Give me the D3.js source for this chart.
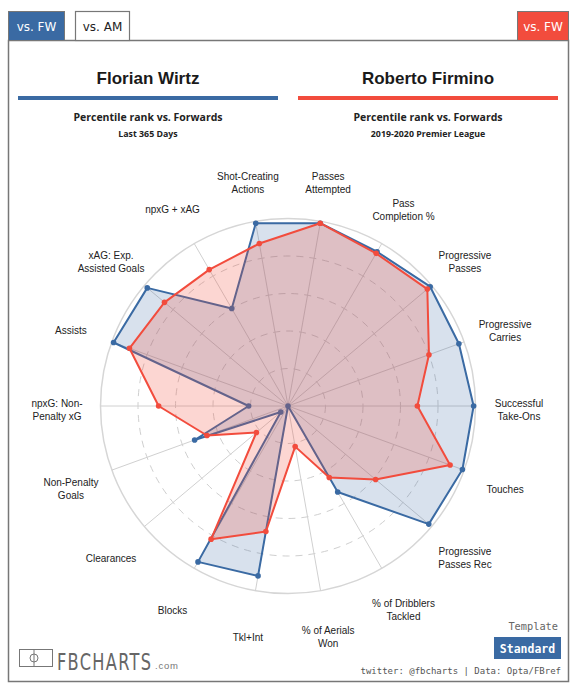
<!DOCTYPE html>
<html>
<head>
<meta charset="utf-8">
<script src="https://cdn.jsdelivr.net/npm/d3@7"></script>
<style>
  html, body { margin: 0; padding: 0; background: #fff; }
  svg { display: block; }
</style>
</head>
<body>
<svg id="chart" width="577" height="690"></svg>
<script>
// ---------- data ----------
const categories = [
  "Passes Attempted", "Pass Completion %", "Progressive Passes", "Progressive Carries",
  "Successful Take-Ons", "Touches", "Progressive Passes Rec", "% of Dribblers Tackled",
  "% of Aerials Won", "Tkl+Int", "Blocks", "Clearances", "Non-Penalty Goals",
  "npxG: Non-Penalty xG", "Assists", "xAG: Exp. Assisted Goals", "npxG + xAG",
  "Shot-Creating Actions"
];
const labelLines = [
  ["Passes", "Attempted"], ["Pass", "Completion %"], ["Progressive", "Passes"],
  ["Progressive", "Carries"], ["Successful", "Take-Ons"], ["Touches"],
  ["Progressive", "Passes Rec"], ["% of Dribblers", "Tackled"], ["% of Aerials", "Won"],
  ["Tkl+Int"], ["Blocks"], ["Clearances"], ["Non-Penalty", "Goals"],
  ["npxG: Non-", "Penalty xG"], ["Assists"], ["xAG: Exp.", "Assisted Goals"],
  ["npxG + xAG"], ["Shot-Creating", "Actions"]
];
const wirtz   = [99, 95, 99, 97, 99, 99, 98, 53, 0, 92, 96, 5, 53, 21, 99, 98, 60, 99];
const firmino = [99, 94, 97, 80, 69, 92, 61, 44, 22, 68, 82, 22, 46, 69, 90, 86, 84, 88];
const gridTicks = [20, 40, 60, 80];
const players = ["Florian Wirtz", "Roberto Firmino"];
const subtitles = ["Last 365 Days", "2019-2020 Premier League"];
const tabsLeft = ["vs. FW", "vs. AM"];
const tabRight = "vs. FW";

// ---------- style ----------
const BLUE = "#3a6aa3";
const RED = "#f24c3d";
const cx = 288, cy = 406, R = 187.5;

const svg = d3.select("#chart");

// ---------- frame & tabs ----------
svg.append("rect").attr("x", 8.5).attr("y", 40.5).attr("width", 560).attr("height", 641)
  .attr("fill", "#fff").attr("stroke", "#777").attr("stroke-width", 1.5);

const tabG = svg.append("g");
tabG.append("rect").attr("x", 8.5).attr("y", 11.5).attr("width", 56).attr("height", 29)
  .attr("fill", BLUE).attr("stroke", "#777").attr("stroke-width", 1);
tabG.append("text").attr("x", 36.5).attr("y", 31).attr("text-anchor", "middle")
  .attr("font-family", "DejaVu Sans").attr("font-size", 12).attr("fill", "#fff").text(tabsLeft[0]);
tabG.append("rect").attr("x", 75.5).attr("y", 11.5).attr("width", 54).attr("height", 29)
  .attr("fill", "#fff").attr("stroke", "#777").attr("stroke-width", 1.2);
tabG.append("text").attr("x", 102.5).attr("y", 31).attr("text-anchor", "middle")
  .attr("font-family", "DejaVu Sans").attr("font-size", 12).attr("fill", "#222").text(tabsLeft[1]);
tabG.append("rect").attr("x", 517.5).attr("y", 11.5).attr("width", 51).attr("height", 29)
  .attr("fill", RED).attr("stroke", "#777").attr("stroke-width", 1);
tabG.append("text").attr("x", 543).attr("y", 31).attr("text-anchor", "middle")
  .attr("font-family", "DejaVu Sans").attr("font-size", 12).attr("fill", "#fff").text(tabRight);

// ---------- headers ----------
const headX = [148, 428];
const headColors = [BLUE, RED];
players.forEach((p, i) => {
  svg.append("text").attr("x", headX[i]).attr("y", 84).attr("text-anchor", "middle")
    .attr("font-family", "Liberation Sans, Arial, sans-serif").attr("font-weight", "bold")
    .attr("font-size", 17).attr("fill", "#1a1a1a").text(p);
  svg.append("rect").attr("x", headX[i] - 130).attr("y", 96).attr("width", 260).attr("height", 4)
    .attr("fill", headColors[i]);
  svg.append("text").attr("x", headX[i]).attr("y", 121).attr("text-anchor", "middle")
    .attr("font-family", "Open Sans, sans-serif").attr("font-weight", "bold")
    .attr("font-size", 10.5).attr("fill", "#222").text("Percentile rank vs. Forwards");
  svg.append("text").attr("x", headX[i]).attr("y", 137).attr("text-anchor", "middle")
    .attr("font-family", "Open Sans, sans-serif").attr("font-weight", "bold")
    .attr("font-size", 8.8).attr("fill", "#222").text(subtitles[i]);
});

// ---------- radar ----------
const n = categories.length;
const angle = d3.scaleLinear().domain([0, n]).range([10 * Math.PI / 180, 10 * Math.PI / 180 + 2 * Math.PI]);
const r = d3.scaleLinear().domain([0, 100]).range([0, R]);

const g = svg.append("g").attr("transform", `translate(${cx},${cy})`);

g.selectAll("circle.grid").data(gridTicks).enter().append("circle")
  .attr("r", d => r(d)).attr("fill", "none").attr("stroke", "#cfcfcf")
  .attr("stroke-width", 1).attr("stroke-dasharray", "7,6");
g.append("circle").attr("r", r(100)).attr("fill", "none").attr("stroke", "#d6d6d6").attr("stroke-width", 1.5);

g.selectAll("line.spoke").data(categories).enter().append("line")
  .attr("x1", 0).attr("y1", 0)
  .attr("x2", (d, i) => Math.sin(angle(i)) * r(100))
  .attr("y2", (d, i) => -Math.cos(angle(i)) * r(100))
  .attr("stroke", "#d0d0d0").attr("stroke-width", 1);

const radial = d3.lineRadial()
  .angle((d, i) => angle(i))
  .radius(d => r(d))
  .curve(d3.curveLinearClosed);

function drawSeries(vals, color, op) {
  const sg = g.append("g");
  sg.append("path").attr("d", radial(vals)).attr("fill", color).attr("fill-opacity", op)
    .attr("stroke", color).attr("stroke-width", 2).attr("stroke-linejoin", "round");
  sg.selectAll("circle").data(vals).enter().append("circle")
    .attr("cx", (d, i) => Math.sin(angle(i)) * r(d))
    .attr("cy", (d, i) => -Math.cos(angle(i)) * r(d))
    .attr("r", 2.8).attr("fill", color);
}
drawSeries(wirtz, BLUE, 0.2);
drawSeries(firmino, RED, 0.23);

const LR = 231;
const lab = g.selectAll("text.lab").data(labelLines).enter().append("text")
  .attr("text-anchor", "middle")
  .attr("font-family", "Liberation Sans, Arial, sans-serif")
  .attr("font-size", 10).attr("fill", "#222")
  .attr("transform", (d, i) => `translate(${Math.sin(angle(i)) * LR},${-Math.cos(angle(i)) * LR + 4})`);
lab.each(function(lines) {
  const t = d3.select(this);
  const off = -(lines.length - 1) * 13 / 2;
  lines.forEach((l, j) => {
    t.append("tspan").attr("x", 0).attr("y", off + j * 13).attr("dy", "0.35em").text(l);
  });
});

// ---------- footer ----------
svg.append("text").attr("x", 558).attr("y", 630).attr("text-anchor", "end")
  .attr("font-family", "DejaVu Sans Mono, monospace").attr("font-size", 10.3)
  .attr("fill", "#666").text("Template");
svg.append("rect").attr("x", 494).attr("y", 637).attr("width", 67).attr("height", 22).attr("fill", BLUE);
svg.append("text").attr("x", 527.5).attr("y", 652.5).attr("text-anchor", "middle")
  .attr("font-family", "DejaVu Sans Mono, monospace").attr("font-weight", "bold").attr("font-size", 11.5)
  .attr("fill", "#fff").text("Standard");
svg.append("text").attr("x", 561).attr("y", 674).attr("text-anchor", "end")
  .attr("font-family", "DejaVu Sans Mono, monospace").attr("font-size", 9)
  .attr("fill", "#555").text("twitter: @fbcharts | Data: Opta/FBref");

// logo
const logo = svg.append("g");
logo.append("rect").attr("x", 19.5).attr("y", 649.5).attr("width", 33).attr("height", 17)
  .attr("fill", "none").attr("stroke", "#777").attr("stroke-width", 1);
logo.append("line").attr("x1", 34).attr("x2", 34).attr("y1", 649.5).attr("y2", 666.5)
  .attr("stroke", "#777").attr("stroke-width", 1);
logo.append("circle").attr("cx", 34).attr("cy", 658).attr("r", 4)
  .attr("fill", "none").attr("stroke", "#777").attr("stroke-width", 1);
logo.append("text").attr("transform", "translate(57,669.5) scale(1,1.3)")
  .attr("font-family", "Liberation Sans Narrow, DejaVu Sans Condensed, sans-serif")
  .attr("font-size", 18).attr("fill", "#666")
  .attr("textLength", 94).attr("lengthAdjust", "spacing").text("FBCHARTS");
logo.append("text").attr("x", 155).attr("y", 669).attr("font-family", "Liberation Sans, Arial, sans-serif")
  .attr("font-size", 9.5).attr("fill", "#777").attr("letter-spacing", 0.8).text(".com");
</script>
</body>
</html>
